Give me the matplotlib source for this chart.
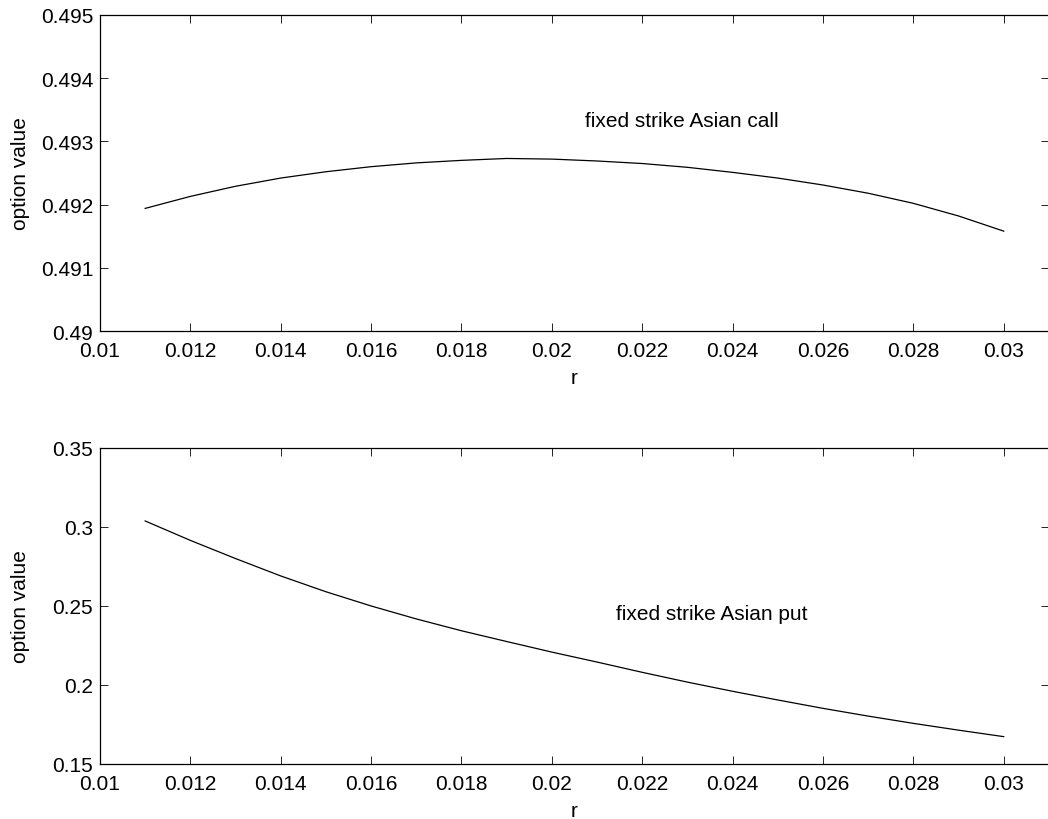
import matplotlib
matplotlib.use("Agg")
import matplotlib.pyplot as plt
from matplotlib.ticker import FuncFormatter, MultipleLocator

# interest rate grid and option values
r = [0.011, 0.012, 0.013, 0.014, 0.015, 0.016, 0.017, 0.018, 0.019, 0.020,
     0.021, 0.022, 0.023, 0.024, 0.025, 0.026, 0.027, 0.028, 0.029, 0.030]
call_value = [0.49194, 0.49213, 0.49229, 0.49242, 0.49252, 0.49260, 0.49266, 0.49270, 0.49273, 0.49272,
              0.49269, 0.49265, 0.49259, 0.49251, 0.49242, 0.49231, 0.49218, 0.49202, 0.49182, 0.49158]
put_value = [0.3038, 0.2915, 0.2800, 0.2690, 0.2590, 0.2500, 0.2418, 0.2343, 0.2275, 0.2208,
             0.2145, 0.2080, 0.2018, 0.1960, 0.1905, 0.1852, 0.1803, 0.1757, 0.1714, 0.1673]

call_label = "fixed strike Asian call"
put_label = "fixed strike Asian put"

plt.rcParams["font.family"] = ["Liberation Sans", "DejaVu Sans"]
plt.rcParams["font.size"] = 15

fig = plt.figure(figsize=(10.48, 8.2), dpi=100)
fmt = FuncFormatter(lambda v, _: "%g" % round(v, 6))


# 设置坐标轴样式，仿 MATLAB 默认外观
def style_axes(ax, ylim, ystep):
    ax.set_xlim(0.01, 0.031)
    ax.set_ylim(*ylim)
    ax.xaxis.set_major_locator(MultipleLocator(0.002))
    ax.yaxis.set_major_locator(MultipleLocator(ystep))
    ax.xaxis.set_major_formatter(fmt)
    ax.yaxis.set_major_formatter(fmt)
    ax.tick_params(direction="in", length=6, width=0.6, top=True, right=True, labelsize=15)
    ax.tick_params(axis="x", pad=7)
    ax.tick_params(axis="y", pad=5)
    for s in ax.spines.values():
        s.set_linewidth(0.9)
    ax.set_xlabel("r")
    ax.set_ylabel("option value")
    ax.yaxis.set_label_coords(-0.074, 0.5)
    ax.xaxis.labelpad = 6


ax1 = fig.add_axes([0.0954, 0.5951, 0.9055, 0.3854])
ax1.plot(r, call_value, color="black", linewidth=0.9)
style_axes(ax1, (0.49, 0.495), 0.001)
ax1.text(0.02073, 0.49325, call_label, va="baseline", ha="left")

ax2 = fig.add_axes([0.0954, 0.0671, 0.9055, 0.3854])
ax2.plot(r, put_value, color="black", linewidth=0.9)
style_axes(ax2, (0.15, 0.35), 0.05)
ax2.text(0.02141, 0.2418, put_label, va="baseline", ha="left")

fig.savefig("out.png", dpi=100)
